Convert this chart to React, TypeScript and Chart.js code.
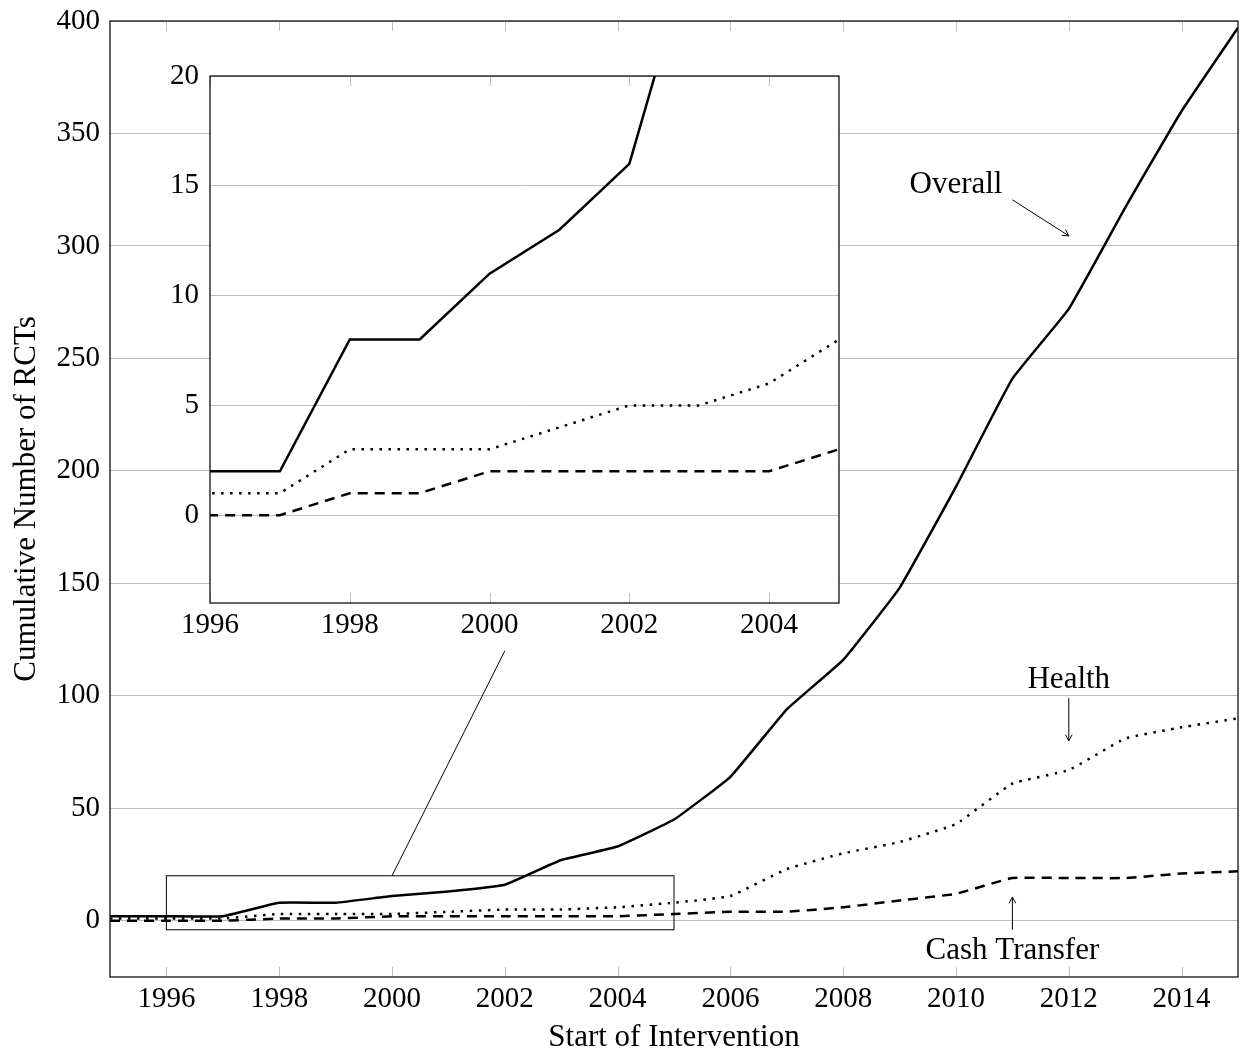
import React, { useEffect, useRef } from 'react';
import { Chart, registerables } from 'chart.js';

Chart.register(...registerables);

// ---------- data ----------
const years = [1995, 1996, 1997, 1998, 1999, 2000, 2001, 2002, 2003, 2004, 2005, 2006, 2007, 2008, 2009, 2010, 2011, 2012, 2013, 2014, 2015];
const overall = [2, 2, 2, 8, 8, 11, 13, 16, 27, 33, 45, 64, 94, 116, 148, 193, 241, 272, 317, 360, 397];
const health = [1, 1, 1, 3, 3, 3, 4, 5, 5, 6, 8, 11, 23, 30, 35, 43, 61, 67, 81, 86, 90];
const cashTransfer = [0, 0, 0, 1, 1, 2, 2, 2, 2, 2, 3, 4, 4, 6, 9, 12, 19, 19, 19, 21, 22];

const mainXTicks = [1996, 1998, 2000, 2002, 2004, 2006, 2008, 2010, 2012, 2014];
const mainYTicks = [0, 50, 100, 150, 200, 250, 300, 350, 400];
const insetXTicks = [1996, 1998, 2000, 2002, 2004];
const insetYTicks = [0, 5, 10, 15, 20];

// zoom box and connector (data units of main axes)
const zoomBoxX = [1996, 2005];
const zoomBoxY = [-4, 20];
const connectorFrom = [2000, 20];
const connectorTo = [2002, 120];

// annotations: text anchor and arrow (data units of main axes)
const annotations = [
  { text: 'Overall', at: [2010, 327.3], from: [2011, 320.5], to: [2012, 304.5] },
  { text: 'Health', at: [2012, 107], from: [2012, 99], to: [2012, 80] },
  { text: 'Cash Transfer', at: [2011, -13.2], from: [2011, -4], to: [2011, 10.5] },
];

const FONT = '"Liberation Serif", "Times New Roman", serif';
const GRID = '#bdbdbd';
const TICK_SIZE = 29;
const LABEL_SIZE = 31;

const toPoints = (vals: number[]) => years.map((yr, i) => ({ x: yr, y: vals[i] }));

const makeDatasets = (tension: number) => [
  {
    label: 'Overall',
    data: toPoints(overall),
    borderColor: '#000',
    borderWidth: 2.5,
    pointRadius: 0,
    tension,
    fill: false,
  },
  {
    label: 'Health',
    data: toPoints(health),
    borderColor: '#000',
    borderWidth: 2.5,
    borderDash: [2.5, 6.5],
    pointRadius: 0,
    tension,
    fill: false,
  },
  {
    label: 'Cash Transfer',
    data: toPoints(cashTransfer),
    borderColor: '#000',
    borderWidth: 2.5,
    borderDash: [10, 7],
    pointRadius: 0,
    tension,
    fill: false,
  },
];

function drawArrow(ctx: CanvasRenderingContext2D, x0: number, y0: number, x1: number, y1: number) {
  ctx.beginPath();
  ctx.moveTo(x0, y0);
  ctx.lineTo(x1, y1);
  ctx.stroke();
  const ang = Math.atan2(y1 - y0, x1 - x0);
  const len = 7;
  const spread = 0.5;
  ctx.beginPath();
  ctx.moveTo(x1 - len * Math.cos(ang - spread), y1 - len * Math.sin(ang - spread));
  ctx.lineTo(x1, y1);
  ctx.lineTo(x1 - len * Math.cos(ang + spread), y1 - len * Math.sin(ang + spread));
  ctx.stroke();
}

function drawFrame(chart: any, xTicks: number[]) {
  const { ctx, chartArea: ca, scales } = chart;
  const x = scales.x;
  ctx.save();
  ctx.strokeStyle = GRID;
  ctx.lineWidth = 1;
  for (const v of xTicks) {
    const px = Math.round(x.getPixelForValue(v)) + 0.5;
    ctx.beginPath();
    ctx.moveTo(px, ca.bottom);
    ctx.lineTo(px, ca.bottom - 10);
    ctx.moveTo(px, ca.top);
    ctx.lineTo(px, ca.top + 10);
    ctx.stroke();
  }
  ctx.strokeStyle = '#111';
  ctx.lineWidth = 1.3;
  ctx.strokeRect(ca.left, ca.top, ca.right - ca.left, ca.bottom - ca.top);
  ctx.restore();
}

const mainDecor = {
  id: 'mainDecor',
  afterDatasetsDraw(chart: any) {
    const { ctx, scales } = chart;
    const x = scales.x;
    const y = scales.y;
    drawFrame(chart, mainXTicks);
    ctx.save();
    // zoom box
    ctx.strokeStyle = '#000';
    ctx.lineWidth = 1;
    const bx0 = x.getPixelForValue(zoomBoxX[0]);
    const bx1 = x.getPixelForValue(zoomBoxX[1]);
    const by0 = y.getPixelForValue(zoomBoxY[0]);
    const by1 = y.getPixelForValue(zoomBoxY[1]);
    ctx.strokeRect(bx0, by1, bx1 - bx0, by0 - by1);
    // connector
    ctx.beginPath();
    ctx.moveTo(x.getPixelForValue(connectorFrom[0]), y.getPixelForValue(connectorFrom[1]));
    ctx.lineTo(x.getPixelForValue(connectorTo[0]), y.getPixelForValue(connectorTo[1]));
    ctx.stroke();
    // annotations
    ctx.fillStyle = '#000';
    ctx.font = `${LABEL_SIZE}px ${FONT}`;
    ctx.textAlign = 'center';
    ctx.textBaseline = 'middle';
    for (const a of annotations) {
      ctx.fillText(a.text, x.getPixelForValue(a.at[0]), y.getPixelForValue(a.at[1]));
      drawArrow(
        ctx,
        x.getPixelForValue(a.from[0]),
        y.getPixelForValue(a.from[1]),
        x.getPixelForValue(a.to[0]),
        y.getPixelForValue(a.to[1])
      );
    }
    ctx.restore();
  },
};

const insetDecor = {
  id: 'insetDecor',
  beforeDraw(chart: any) {
    const { ctx, chartArea: ca } = chart;
    ctx.save();
    ctx.fillStyle = '#fff';
    ctx.fillRect(ca.left, ca.top, ca.right - ca.left, ca.bottom - ca.top);
    ctx.restore();
  },
  afterDatasetsDraw(chart: any) {
    drawFrame(chart, insetXTicks);
  },
};

const tickFont = { family: FONT, size: TICK_SIZE };
const titleFont = { family: FONT, size: LABEL_SIZE };

export default function App() {
  const mainRef = useRef<HTMLCanvasElement>(null);
  const insetRef = useRef<HTMLCanvasElement>(null);

  useEffect(() => {
    const main = new Chart(mainRef.current!, {
      type: 'line',
      data: { datasets: makeDatasets(0.1) as any },
      options: {
        animation: false,
        responsive: false,
        devicePixelRatio: 1,
        layout: { padding: { top: 21, right: 5, left: 0, bottom: 0 } },
        plugins: { legend: { display: false }, tooltip: { enabled: false } },
        scales: {
          x: {
            type: 'linear',
            min: 1995,
            max: 2015,
            afterBuildTicks: (s: any) => {
              s.ticks = mainXTicks.map((v) => ({ value: v }));
            },
            afterFit: (s: any) => {
              s.height = 76;
              s.paddingLeft = 0;
              s.paddingRight = 0;
            },
            grid: { display: false, drawTicks: false },
            border: { display: false },
            ticks: {
              color: '#000',
              font: tickFont,
              padding: 5,
              maxRotation: 0,
              autoSkip: false,
              callback: (v: any) => String(v),
            },
            title: {
              display: true,
              text: 'Start of Intervention',
              color: '#000',
              font: titleFont,
              padding: { top: 0, bottom: -3 },
            },
          },
          y: {
            type: 'linear',
            min: -25,
            max: 400,
            afterBuildTicks: (s: any) => {
              s.ticks = mainYTicks.map((v) => ({ value: v }));
            },
            afterFit: (s: any) => {
              s.width = 110;
              s.paddingTop = 0;
              s.paddingBottom = 0;
            },
            grid: { color: GRID, lineWidth: 1, drawTicks: false },
            border: { display: false },
            ticks: {
              color: '#000',
              font: tickFont,
              padding: 10,
              autoSkip: false,
              callback: (v: any) => String(v),
            },
            title: {
              display: true,
              text: 'Cumulative Number of RCTs',
              color: '#000',
              font: titleFont,
              padding: { top: 8, bottom: 0 },
            },
          },
        },
      } as any,
      plugins: [mainDecor],
    });

    const inset = new Chart(insetRef.current!, {
      type: 'line',
      data: { datasets: makeDatasets(0) as any },
      options: {
        animation: false,
        responsive: false,
        devicePixelRatio: 1,
        layout: { padding: { top: 36, right: 11, left: 0, bottom: 0 } },
        plugins: { legend: { display: false }, tooltip: { enabled: false } },
        scales: {
          x: {
            type: 'linear',
            min: 1996,
            max: 2005,
            afterBuildTicks: (s: any) => {
              s.ticks = insetXTicks.map((v) => ({ value: v }));
            },
            afterFit: (s: any) => {
              s.height = 47;
              s.paddingLeft = 0;
              s.paddingRight = 0;
            },
            grid: { display: false, drawTicks: false },
            border: { display: false },
            ticks: {
              color: '#000',
              font: tickFont,
              padding: 5,
              maxRotation: 0,
              autoSkip: false,
              callback: (v: any) => String(v),
            },
          },
          y: {
            type: 'linear',
            min: -4,
            max: 20,
            afterBuildTicks: (s: any) => {
              s.ticks = insetYTicks.map((v) => ({ value: v }));
            },
            afterFit: (s: any) => {
              s.width = 60;
              s.paddingTop = 0;
              s.paddingBottom = 0;
            },
            grid: { color: GRID, lineWidth: 1, drawTicks: false },
            border: { display: false },
            ticks: {
              color: '#000',
              font: tickFont,
              padding: 11,
              autoSkip: false,
              callback: (v: any) => String(v),
            },
          },
        },
      } as any,
      plugins: [insetDecor],
    });

    return () => {
      main.destroy();
      inset.destroy();
    };
  }, []);

  return (
    <div style={{ position: 'absolute', left: 0, top: 0, width: 1243, height: 1053, background: '#fff' }}>
      <canvas
        ref={mainRef}
        width={1243}
        height={1053}
        style={{ position: 'absolute', left: 0, top: 0, width: 1243, height: 1053 }}
      />
      <canvas
        ref={insetRef}
        width={700}
        height={610}
        style={{ position: 'absolute', left: 150, top: 40, width: 700, height: 610 }}
      />
    </div>
  );
}
